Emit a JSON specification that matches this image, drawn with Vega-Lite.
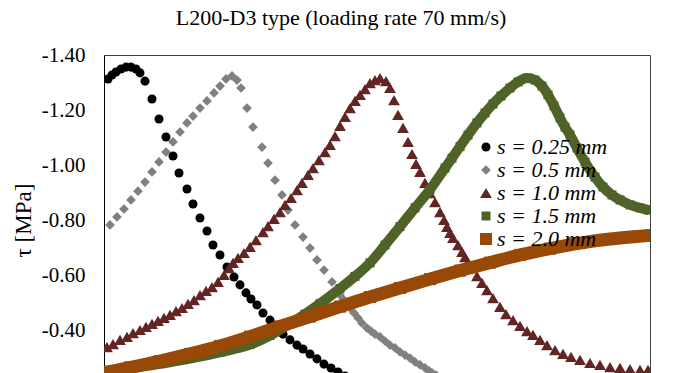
{
  "$schema": "https://vega.github.io/schema/vega-lite/v6.json",
  "width": 546,
  "height": 330,
  "autosize": "none",
  "padding": {"left": 104, "top": 55, "right": 37, "bottom": 0},
  "background": "white",
  "title": {"text": "L200-D3 type (loading rate 70 mm/s)", "font": "Liberation Serif", "fontSize": 22, "fontWeight": "normal", "color": "#000000", "anchor": "middle", "dx": -36, "offset": 14},
  "config": {"view": {"stroke": "#404040", "strokeWidth": 1}},
  "data": {"values": [
    {"series": "s = 0.25 mm", "x": 4, "tau": -1.313},
    {"series": "s = 0.25 mm", "x": 8, "tau": -1.327},
    {"series": "s = 0.25 mm", "x": 12, "tau": -1.338},
    {"series": "s = 0.25 mm", "x": 17, "tau": -1.349},
    {"series": "s = 0.25 mm", "x": 22, "tau": -1.356},
    {"series": "s = 0.25 mm", "x": 27, "tau": -1.356},
    {"series": "s = 0.25 mm", "x": 32, "tau": -1.349},
    {"series": "s = 0.25 mm", "x": 36, "tau": -1.335},
    {"series": "s = 0.25 mm", "x": 41, "tau": -1.305},
    {"series": "s = 0.25 mm", "x": 48, "tau": -1.240},
    {"series": "s = 0.25 mm", "x": 55, "tau": -1.167},
    {"series": "s = 0.25 mm", "x": 62, "tau": -1.102},
    {"series": "s = 0.25 mm", "x": 69, "tau": -1.033},
    {"series": "s = 0.25 mm", "x": 75, "tau": -0.971},
    {"series": "s = 0.25 mm", "x": 83, "tau": -0.913},
    {"series": "s = 0.25 mm", "x": 89, "tau": -0.858},
    {"series": "s = 0.25 mm", "x": 96, "tau": -0.807},
    {"series": "s = 0.25 mm", "x": 103, "tau": -0.760},
    {"series": "s = 0.25 mm", "x": 109, "tau": -0.709},
    {"series": "s = 0.25 mm", "x": 116, "tau": -0.673},
    {"series": "s = 0.25 mm", "x": 123, "tau": -0.629},
    {"series": "s = 0.25 mm", "x": 130, "tau": -0.593},
    {"series": "s = 0.25 mm", "x": 136, "tau": -0.564},
    {"series": "s = 0.25 mm", "x": 142, "tau": -0.535},
    {"series": "s = 0.25 mm", "x": 147, "tau": -0.513},
    {"series": "s = 0.25 mm", "x": 153, "tau": -0.491},
    {"series": "s = 0.25 mm", "x": 159, "tau": -0.462},
    {"series": "s = 0.25 mm", "x": 166, "tau": -0.436},
    {"series": "s = 0.25 mm", "x": 173, "tau": -0.411},
    {"series": "s = 0.25 mm", "x": 179, "tau": -0.385},
    {"series": "s = 0.25 mm", "x": 186, "tau": -0.364},
    {"series": "s = 0.25 mm", "x": 193, "tau": -0.345},
    {"series": "s = 0.25 mm", "x": 199, "tau": -0.331},
    {"series": "s = 0.25 mm", "x": 206, "tau": -0.313},
    {"series": "s = 0.25 mm", "x": 213, "tau": -0.295},
    {"series": "s = 0.25 mm", "x": 220, "tau": -0.276},
    {"series": "s = 0.25 mm", "x": 227, "tau": -0.262},
    {"series": "s = 0.25 mm", "x": 234, "tau": -0.247},
    {"series": "s = 0.25 mm", "x": 241, "tau": -0.233},
    {"series": "s = 0.25 mm", "x": 248, "tau": -0.218},

    {"series": "s = 0.5 mm", "x": 6, "tau": -0.782},
    {"series": "s = 0.5 mm", "x": 13, "tau": -0.811},
    {"series": "s = 0.5 mm", "x": 20, "tau": -0.840},
    {"series": "s = 0.5 mm", "x": 27, "tau": -0.873},
    {"series": "s = 0.5 mm", "x": 34, "tau": -0.905},
    {"series": "s = 0.5 mm", "x": 41, "tau": -0.938},
    {"series": "s = 0.5 mm", "x": 48, "tau": -0.975},
    {"series": "s = 0.5 mm", "x": 55, "tau": -1.011},
    {"series": "s = 0.5 mm", "x": 62, "tau": -1.047},
    {"series": "s = 0.5 mm", "x": 69, "tau": -1.084},
    {"series": "s = 0.5 mm", "x": 76, "tau": -1.120},
    {"series": "s = 0.5 mm", "x": 83, "tau": -1.153},
    {"series": "s = 0.5 mm", "x": 89, "tau": -1.178},
    {"series": "s = 0.5 mm", "x": 96, "tau": -1.207},
    {"series": "s = 0.5 mm", "x": 103, "tau": -1.233},
    {"series": "s = 0.5 mm", "x": 110, "tau": -1.262},
    {"series": "s = 0.5 mm", "x": 116, "tau": -1.287},
    {"series": "s = 0.5 mm", "x": 122, "tau": -1.313},
    {"series": "s = 0.5 mm", "x": 128, "tau": -1.324},
    {"series": "s = 0.5 mm", "x": 133, "tau": -1.309},
    {"series": "s = 0.5 mm", "x": 137, "tau": -1.280},
    {"series": "s = 0.5 mm", "x": 143, "tau": -1.207},
    {"series": "s = 0.5 mm", "x": 149, "tau": -1.138},
    {"series": "s = 0.5 mm", "x": 158, "tau": -1.065},
    {"series": "s = 0.5 mm", "x": 164, "tau": -1.007},
    {"series": "s = 0.5 mm", "x": 171, "tau": -0.945},
    {"series": "s = 0.5 mm", "x": 178, "tau": -0.891},
    {"series": "s = 0.5 mm", "x": 184, "tau": -0.836},
    {"series": "s = 0.5 mm", "x": 191, "tau": -0.782},
    {"series": "s = 0.5 mm", "x": 199, "tau": -0.738},
    {"series": "s = 0.5 mm", "x": 206, "tau": -0.698},
    {"series": "s = 0.5 mm", "x": 213, "tau": -0.655},
    {"series": "s = 0.5 mm", "x": 220, "tau": -0.618},
    {"series": "s = 0.5 mm", "x": 228, "tau": -0.575},
    {"series": "s = 0.5 mm", "x": 236, "tau": -0.527},
    {"series": "s = 0.5 mm", "x": 240, "tau": -0.509},
    {"series": "s = 0.5 mm", "x": 246, "tau": -0.480},
    {"series": "s = 0.5 mm", "x": 250, "tau": -0.462},
    {"series": "s = 0.5 mm", "x": 254, "tau": -0.444},
    {"series": "s = 0.5 mm", "x": 258, "tau": -0.425},
    {"series": "s = 0.5 mm", "x": 263, "tau": -0.407},
    {"series": "s = 0.5 mm", "x": 267, "tau": -0.396},
    {"series": "s = 0.5 mm", "x": 271, "tau": -0.385},
    {"series": "s = 0.5 mm", "x": 276, "tau": -0.375},
    {"series": "s = 0.5 mm", "x": 281, "tau": -0.360},
    {"series": "s = 0.5 mm", "x": 286, "tau": -0.345},
    {"series": "s = 0.5 mm", "x": 291, "tau": -0.335},
    {"series": "s = 0.5 mm", "x": 296, "tau": -0.320},
    {"series": "s = 0.5 mm", "x": 301, "tau": -0.309},
    {"series": "s = 0.5 mm", "x": 306, "tau": -0.298},
    {"series": "s = 0.5 mm", "x": 311, "tau": -0.284},
    {"series": "s = 0.5 mm", "x": 316, "tau": -0.273},
    {"series": "s = 0.5 mm", "x": 321, "tau": -0.262},
    {"series": "s = 0.5 mm", "x": 325, "tau": -0.251},
    {"series": "s = 0.5 mm", "x": 328, "tau": -0.244},
    {"series": "s = 0.5 mm", "x": 332, "tau": -0.236},
    {"series": "s = 0.5 mm", "x": 336, "tau": -0.225},
    {"series": "s = 0.5 mm", "x": 340, "tau": -0.218},

    {"series": "s = 1.0 mm", "x": 3, "tau": -0.338},
    {"series": "s = 1.0 mm", "x": 9, "tau": -0.349},
    {"series": "s = 1.0 mm", "x": 16, "tau": -0.364},
    {"series": "s = 1.0 mm", "x": 23, "tau": -0.375},
    {"series": "s = 1.0 mm", "x": 29, "tau": -0.389},
    {"series": "s = 1.0 mm", "x": 36, "tau": -0.400},
    {"series": "s = 1.0 mm", "x": 42, "tau": -0.411},
    {"series": "s = 1.0 mm", "x": 48, "tau": -0.422},
    {"series": "s = 1.0 mm", "x": 54, "tau": -0.433},
    {"series": "s = 1.0 mm", "x": 60, "tau": -0.444},
    {"series": "s = 1.0 mm", "x": 66, "tau": -0.455},
    {"series": "s = 1.0 mm", "x": 72, "tau": -0.469},
    {"series": "s = 1.0 mm", "x": 78, "tau": -0.480},
    {"series": "s = 1.0 mm", "x": 84, "tau": -0.495},
    {"series": "s = 1.0 mm", "x": 90, "tau": -0.509},
    {"series": "s = 1.0 mm", "x": 96, "tau": -0.527},
    {"series": "s = 1.0 mm", "x": 102, "tau": -0.542},
    {"series": "s = 1.0 mm", "x": 108, "tau": -0.556},
    {"series": "s = 1.0 mm", "x": 114, "tau": -0.575},
    {"series": "s = 1.0 mm", "x": 120, "tau": -0.600},
    {"series": "s = 1.0 mm", "x": 125, "tau": -0.625},
    {"series": "s = 1.0 mm", "x": 129, "tau": -0.644},
    {"series": "s = 1.0 mm", "x": 134, "tau": -0.662},
    {"series": "s = 1.0 mm", "x": 140, "tau": -0.680},
    {"series": "s = 1.0 mm", "x": 146, "tau": -0.702},
    {"series": "s = 1.0 mm", "x": 152, "tau": -0.727},
    {"series": "s = 1.0 mm", "x": 159, "tau": -0.756},
    {"series": "s = 1.0 mm", "x": 164, "tau": -0.778},
    {"series": "s = 1.0 mm", "x": 170, "tau": -0.804},
    {"series": "s = 1.0 mm", "x": 176, "tau": -0.829},
    {"series": "s = 1.0 mm", "x": 181, "tau": -0.855},
    {"series": "s = 1.0 mm", "x": 187, "tau": -0.880},
    {"series": "s = 1.0 mm", "x": 193, "tau": -0.909},
    {"series": "s = 1.0 mm", "x": 198, "tau": -0.935},
    {"series": "s = 1.0 mm", "x": 204, "tau": -0.964},
    {"series": "s = 1.0 mm", "x": 209, "tau": -0.989},
    {"series": "s = 1.0 mm", "x": 215, "tau": -1.018},
    {"series": "s = 1.0 mm", "x": 221, "tau": -1.047},
    {"series": "s = 1.0 mm", "x": 226, "tau": -1.073},
    {"series": "s = 1.0 mm", "x": 231, "tau": -1.105},
    {"series": "s = 1.0 mm", "x": 236, "tau": -1.142},
    {"series": "s = 1.0 mm", "x": 241, "tau": -1.175},
    {"series": "s = 1.0 mm", "x": 246, "tau": -1.207},
    {"series": "s = 1.0 mm", "x": 251, "tau": -1.233},
    {"series": "s = 1.0 mm", "x": 256, "tau": -1.255},
    {"series": "s = 1.0 mm", "x": 261, "tau": -1.276},
    {"series": "s = 1.0 mm", "x": 266, "tau": -1.298},
    {"series": "s = 1.0 mm", "x": 271, "tau": -1.309},
    {"series": "s = 1.0 mm", "x": 276, "tau": -1.316},
    {"series": "s = 1.0 mm", "x": 282, "tau": -1.305},
    {"series": "s = 1.0 mm", "x": 286, "tau": -1.280},
    {"series": "s = 1.0 mm", "x": 290, "tau": -1.236},
    {"series": "s = 1.0 mm", "x": 294, "tau": -1.182},
    {"series": "s = 1.0 mm", "x": 299, "tau": -1.135},
    {"series": "s = 1.0 mm", "x": 304, "tau": -1.084},
    {"series": "s = 1.0 mm", "x": 308, "tau": -1.040},
    {"series": "s = 1.0 mm", "x": 312, "tau": -1.004},
    {"series": "s = 1.0 mm", "x": 316, "tau": -0.975},
    {"series": "s = 1.0 mm", "x": 321, "tau": -0.935},
    {"series": "s = 1.0 mm", "x": 326, "tau": -0.898},
    {"series": "s = 1.0 mm", "x": 331, "tau": -0.865},
    {"series": "s = 1.0 mm", "x": 336, "tau": -0.829},
    {"series": "s = 1.0 mm", "x": 340, "tau": -0.800},
    {"series": "s = 1.0 mm", "x": 343, "tau": -0.775},
    {"series": "s = 1.0 mm", "x": 346, "tau": -0.753},
    {"series": "s = 1.0 mm", "x": 349, "tau": -0.735},
    {"series": "s = 1.0 mm", "x": 354, "tau": -0.709},
    {"series": "s = 1.0 mm", "x": 358, "tau": -0.684},
    {"series": "s = 1.0 mm", "x": 361, "tau": -0.665},
    {"series": "s = 1.0 mm", "x": 364, "tau": -0.647},
    {"series": "s = 1.0 mm", "x": 368, "tau": -0.625},
    {"series": "s = 1.0 mm", "x": 373, "tau": -0.596},
    {"series": "s = 1.0 mm", "x": 378, "tau": -0.571},
    {"series": "s = 1.0 mm", "x": 383, "tau": -0.545},
    {"series": "s = 1.0 mm", "x": 389, "tau": -0.516},
    {"series": "s = 1.0 mm", "x": 396, "tau": -0.484},
    {"series": "s = 1.0 mm", "x": 402, "tau": -0.458},
    {"series": "s = 1.0 mm", "x": 409, "tau": -0.436},
    {"series": "s = 1.0 mm", "x": 416, "tau": -0.415},
    {"series": "s = 1.0 mm", "x": 423, "tau": -0.396},
    {"series": "s = 1.0 mm", "x": 429, "tau": -0.382},
    {"series": "s = 1.0 mm", "x": 436, "tau": -0.364},
    {"series": "s = 1.0 mm", "x": 443, "tau": -0.345},
    {"series": "s = 1.0 mm", "x": 451, "tau": -0.327},
    {"series": "s = 1.0 mm", "x": 459, "tau": -0.313},
    {"series": "s = 1.0 mm", "x": 467, "tau": -0.302},
    {"series": "s = 1.0 mm", "x": 476, "tau": -0.291},
    {"series": "s = 1.0 mm", "x": 486, "tau": -0.280},
    {"series": "s = 1.0 mm", "x": 496, "tau": -0.273},
    {"series": "s = 1.0 mm", "x": 506, "tau": -0.265},
    {"series": "s = 1.0 mm", "x": 516, "tau": -0.262},
    {"series": "s = 1.0 mm", "x": 526, "tau": -0.258},
    {"series": "s = 1.0 mm", "x": 536, "tau": -0.255},
    {"series": "s = 1.0 mm", "x": 544, "tau": -0.255},

    {"series": "s = 1.5 mm", "x": 0, "tau": -0.251},
    {"series": "s = 1.5 mm", "x": 26, "tau": -0.261},
    {"series": "s = 1.5 mm", "x": 56, "tau": -0.277},
    {"series": "s = 1.5 mm", "x": 86, "tau": -0.296},
    {"series": "s = 1.5 mm", "x": 116, "tau": -0.319},
    {"series": "s = 1.5 mm", "x": 146, "tau": -0.347},
    {"series": "s = 1.5 mm", "x": 166, "tau": -0.380},
    {"series": "s = 1.5 mm", "x": 186, "tau": -0.424},
    {"series": "s = 1.5 mm", "x": 201, "tau": -0.458},
    {"series": "s = 1.5 mm", "x": 216, "tau": -0.496},
    {"series": "s = 1.5 mm", "x": 236, "tau": -0.551},
    {"series": "s = 1.5 mm", "x": 251, "tau": -0.595},
    {"series": "s = 1.5 mm", "x": 266, "tau": -0.644},
    {"series": "s = 1.5 mm", "x": 281, "tau": -0.709},
    {"series": "s = 1.5 mm", "x": 296, "tau": -0.776},
    {"series": "s = 1.5 mm", "x": 311, "tau": -0.844},
    {"series": "s = 1.5 mm", "x": 326, "tau": -0.911},
    {"series": "s = 1.5 mm", "x": 341, "tau": -0.989},
    {"series": "s = 1.5 mm", "x": 348, "tau": -1.025},
    {"series": "s = 1.5 mm", "x": 356, "tau": -1.067},
    {"series": "s = 1.5 mm", "x": 364, "tau": -1.109},
    {"series": "s = 1.5 mm", "x": 373, "tau": -1.153},
    {"series": "s = 1.5 mm", "x": 381, "tau": -1.189},
    {"series": "s = 1.5 mm", "x": 389, "tau": -1.222},
    {"series": "s = 1.5 mm", "x": 397, "tau": -1.251},
    {"series": "s = 1.5 mm", "x": 406, "tau": -1.280},
    {"series": "s = 1.5 mm", "x": 414, "tau": -1.302},
    {"series": "s = 1.5 mm", "x": 423, "tau": -1.316},
    {"series": "s = 1.5 mm", "x": 431, "tau": -1.309},
    {"series": "s = 1.5 mm", "x": 438, "tau": -1.287},
    {"series": "s = 1.5 mm", "x": 444, "tau": -1.255},
    {"series": "s = 1.5 mm", "x": 450, "tau": -1.215},
    {"series": "s = 1.5 mm", "x": 456, "tau": -1.171},
    {"series": "s = 1.5 mm", "x": 461, "tau": -1.138},
    {"series": "s = 1.5 mm", "x": 466, "tau": -1.109},
    {"series": "s = 1.5 mm", "x": 473, "tau": -1.062},
    {"series": "s = 1.5 mm", "x": 481, "tau": -1.011},
    {"series": "s = 1.5 mm", "x": 491, "tau": -0.956},
    {"series": "s = 1.5 mm", "x": 499, "tau": -0.920},
    {"series": "s = 1.5 mm", "x": 508, "tau": -0.891},
    {"series": "s = 1.5 mm", "x": 516, "tau": -0.873},
    {"series": "s = 1.5 mm", "x": 526, "tau": -0.855},
    {"series": "s = 1.5 mm", "x": 536, "tau": -0.844},
    {"series": "s = 1.5 mm", "x": 545, "tau": -0.836},

    {"series": "s = 2.0 mm", "x": 0, "tau": -0.244},
    {"series": "s = 2.0 mm", "x": 26, "tau": -0.264},
    {"series": "s = 2.0 mm", "x": 56, "tau": -0.287},
    {"series": "s = 2.0 mm", "x": 86, "tau": -0.313},
    {"series": "s = 2.0 mm", "x": 116, "tau": -0.342},
    {"series": "s = 2.0 mm", "x": 146, "tau": -0.376},
    {"series": "s = 2.0 mm", "x": 176, "tau": -0.413},
    {"series": "s = 2.0 mm", "x": 206, "tau": -0.449},
    {"series": "s = 2.0 mm", "x": 236, "tau": -0.485},
    {"series": "s = 2.0 mm", "x": 266, "tau": -0.520},
    {"series": "s = 2.0 mm", "x": 296, "tau": -0.553},
    {"series": "s = 2.0 mm", "x": 326, "tau": -0.585},
    {"series": "s = 2.0 mm", "x": 356, "tau": -0.616},
    {"series": "s = 2.0 mm", "x": 386, "tau": -0.645},
    {"series": "s = 2.0 mm", "x": 416, "tau": -0.673},
    {"series": "s = 2.0 mm", "x": 446, "tau": -0.696},
    {"series": "s = 2.0 mm", "x": 476, "tau": -0.716},
    {"series": "s = 2.0 mm", "x": 506, "tau": -0.731},
    {"series": "s = 2.0 mm", "x": 526, "tau": -0.738},
    {"series": "s = 2.0 mm", "x": 546, "tau": -0.744}
  ]},
  "encoding": {
    "x": {"field": "x", "type": "quantitative", "scale": {"domain": [0, 546], "nice": false, "zero": false}, "axis": null},
    "y": {"field": "tau", "type": "quantitative", "scale": {"domain": [-1.4, -0.2], "reverse": true, "nice": false, "zero": false},
      "axis": {"title": "τ [MPa]", "values": [-1.4, -1.2, -1.0, -0.8, -0.6, -0.4], "labelExpr": "replace(format(datum.value, '.2f'), '\u2212', '-')", "ticks": false, "grid": false, "domainColor": "#000000", "domainWidth": 1, "labelFont": "Liberation Serif", "labelFontSize": 21, "labelColor": "#000000", "labelPadding": 19, "titleFont": "Liberation Serif", "titleFontSize": 23, "titleFontWeight": "normal", "titleColor": "#000000", "titlePadding": 6}}
  },
  "layer": [
    {
      "mark": {"type": "point", "filled": true, "opacity": 1, "clip": true},
      "encoding": {
        "color": {"field": "series", "type": "nominal",
          "scale": {"domain": ["s = 0.25 mm", "s = 0.5 mm", "s = 1.0 mm", "s = 1.5 mm", "s = 2.0 mm"], "range": ["#000000", "#808080", "#632523", "#4f6228", "#984807"]},
          "legend": {"title": null, "orient": "none", "legendX": 371, "legendY": 81, "padding": 0, "labelFont": "Liberation Serif", "labelFontStyle": "italic", "labelFontSize": 22, "labelColor": "#000000", "symbolSize": 55, "rowPadding": 1, "labelOffset": 0, "symbolStrokeWidth": 0}},
        "shape": {"field": "series", "type": "nominal",
          "scale": {"domain": ["s = 0.25 mm", "s = 0.5 mm", "s = 1.0 mm", "s = 1.5 mm", "s = 2.0 mm"], "range": ["circle", "diamond", "triangle-up", "square", "square"]},
          "legend": {"title": null, "orient": "none", "legendX": 371, "legendY": 81, "padding": 0, "labelFont": "Liberation Serif", "labelFontStyle": "italic", "labelFontSize": 22, "labelColor": "#000000", "symbolSize": 55, "rowPadding": 1, "labelOffset": 0, "symbolStrokeWidth": 0}},
        "size": {"field": "series", "type": "nominal",
          "scale": {"type": "ordinal", "domain": ["s = 0.25 mm", "s = 0.5 mm", "s = 1.0 mm", "s = 1.5 mm", "s = 2.0 mm"], "range": [82, 95, 140, 81, 144]},
          "legend": null}
      }
    },
    {
      "transform": [{"filter": "datum.series === 's = 1.5 mm'"}],
      "mark": {"type": "line", "color": "#4f6228", "strokeWidth": 10, "interpolate": "monotone", "clip": true},
      "encoding": {}
    },
    {
      "transform": [{"filter": "datum.series === 's = 2.0 mm'"}],
      "mark": {"type": "line", "color": "#984807", "strokeWidth": 13, "interpolate": "monotone", "clip": true},
      "encoding": {}
    }
  ]
}
